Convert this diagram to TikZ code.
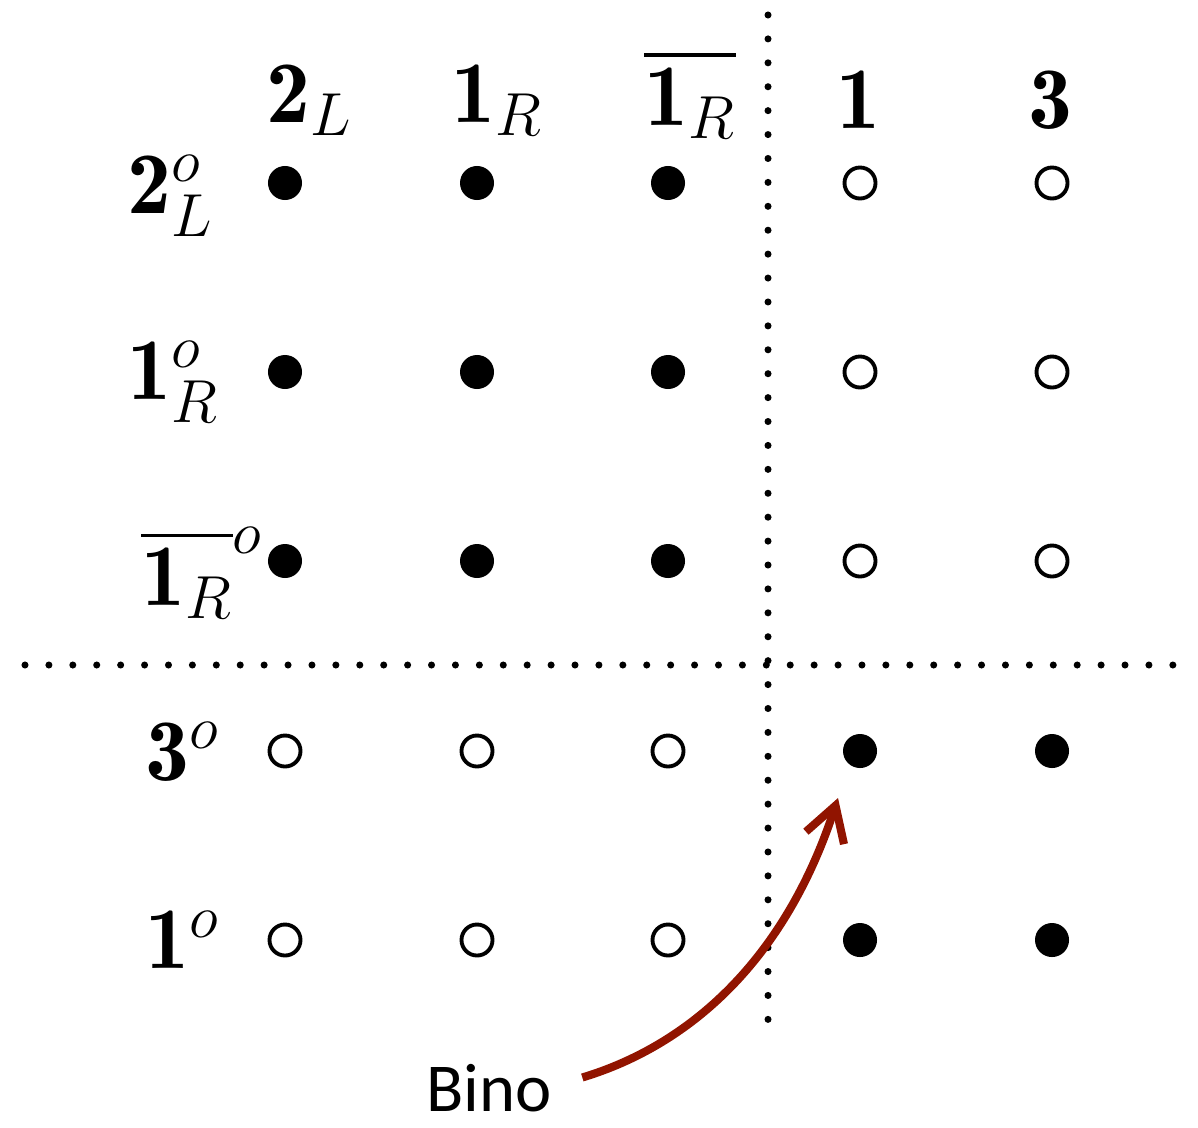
\documentclass[tikz,border=0pt]{standalone}
\usepackage{amsmath,amssymb}
\usepackage{fontspec}
\usepackage{xcolor}
\usepackage{tikz}
\usetikzlibrary{arrows.meta,positioning,calc}
\newfontfamily\binofont{Carlito}
\definecolor{binored}{RGB}{145,20,0}
\tikzset{
  fulldot/.style={circle, fill=black, minimum size=0.34cm, inner sep=0pt},
  opendot/.style={circle, draw=black, line width=1.1pt, fill=white, minimum size=0.31cm, inner sep=0pt},
  lbl/.style={font=\fontsize{25}{30}\selectfont, inner sep=0pt},
  divider/.style={line width=2pt, line cap=round, dash pattern=on 0pt off 6.8pt},
  line/.style={-{Straight Barb[length=3.4mm,width=4mm]}, line width=2.3pt, binored}
}
\begin{document}
\begin{tikzpicture}[x=0.01cm, y=-0.01cm]
  \useasboundingbox (0,0) rectangle (1198,1127);
  % column labels
  \node[lbl] (c1) at (310,100) {$\mathbf{2}_L$};
  \node[lbl] (c2) at (497,100) {$\mathbf{1}_R$};
  \node[lbl] (c3) at (690,94) {$\overline{\mathbf{1}_R}$};
  \node[lbl] (c4) at (858,100) {$\mathbf{1}$};
  \node[lbl] (c5) at (1050,100) {$\mathbf{3}$};
  % row labels
  \node[lbl] (r1) at (171,196) {$\mathbf{2}^o_L$};
  \node[lbl] (r2) at (173,382) {$\mathbf{1}^o_R$};
  \node[lbl] (r3) at (202,573) {$\overline{\mathbf{1}_R}^o$};
  \node[lbl] (r4) at (183,752) {$\mathbf{3}^o$};
  \node[lbl] (r5) at (183,940) {$\mathbf{1}^o$};
  % dividers
  \coordinate (vtop) at (768,15);
  \coordinate (vbot) at (768,1023);
  \coordinate (hleft) at (25,665);
  \coordinate (hright) at (1185,665);
  \draw[divider] (vtop) -- (vbot);
  \draw[divider] (hleft) -- (hright);
  % dots
  \node[fulldot] (d11) at (285,183) {};
  \node[fulldot] (d12) at (477,183) {};
  \node[fulldot] (d13) at (668,183) {};
  \node[opendot] (d14) at (860,183) {};
  \node[opendot] (d15) at (1052,183) {};
  \node[fulldot] (d21) at (285,372) {};
  \node[fulldot] (d22) at (477,372) {};
  \node[fulldot] (d23) at (668,372) {};
  \node[opendot] (d24) at (860,372) {};
  \node[opendot] (d25) at (1052,372) {};
  \node[fulldot] (d31) at (285,561) {};
  \node[fulldot] (d32) at (477,561) {};
  \node[fulldot] (d33) at (668,561) {};
  \node[opendot] (d34) at (860,561) {};
  \node[opendot] (d35) at (1052,561) {};
  \node[opendot] (d41) at (285,751) {};
  \node[opendot] (d42) at (477,751) {};
  \node[opendot] (d43) at (668,751) {};
  \node[fulldot] (d44) at (860,751) {};
  \node[fulldot] (d45) at (1052,751) {};
  \node[opendot] (d51) at (285,940) {};
  \node[opendot] (d52) at (477,940) {};
  \node[opendot] (d53) at (668,940) {};
  \node[fulldot] (d54) at (860,940) {};
  \node[fulldot] (d55) at (1052,940) {};
  % bino arrow
  \node[font=\binofont\fontsize{19.5}{23}\selectfont, inner sep=0pt] (bino) at (489,1088) {Bino};
  \coordinate (binotip) at (838,798);
  \draw[line] ([shift={(30,14)}]bino.north east) .. controls (690,1045) and (785,960) .. (binotip);
\end{tikzpicture}
\end{document}
